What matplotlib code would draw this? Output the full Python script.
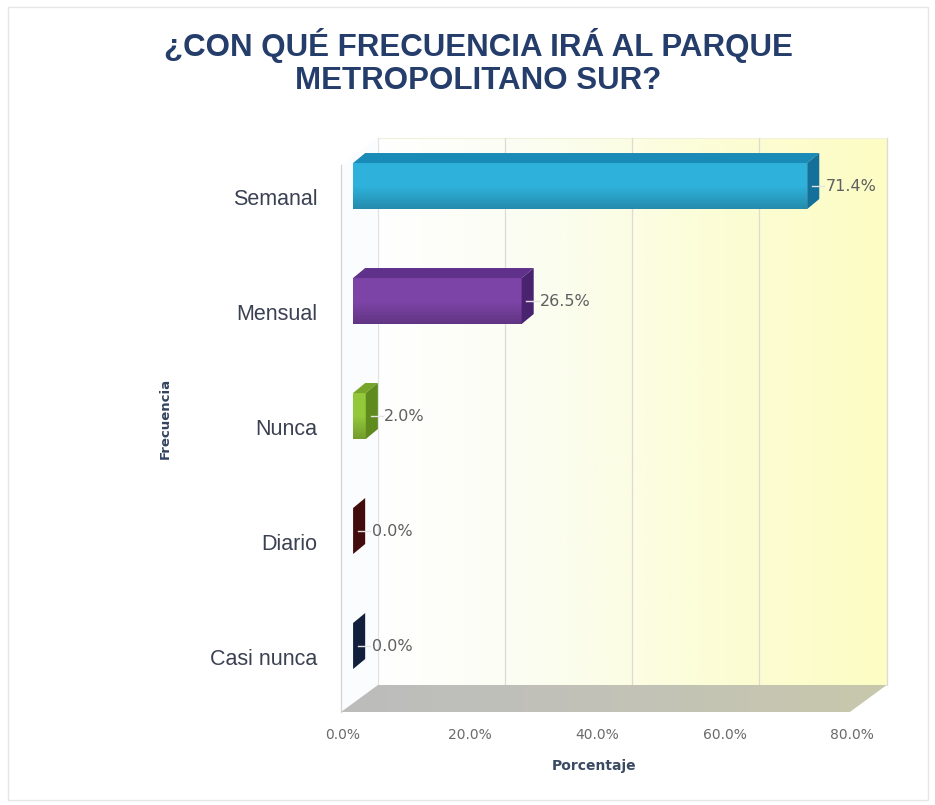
import numpy as np
import matplotlib
matplotlib.use("Agg")
import matplotlib.pyplot as plt
from matplotlib.patches import Polygon, Rectangle
from matplotlib.colors import LinearSegmentedColormap
from matplotlib.transforms import ScaledTranslation

# datos
categorias = ["Semanal", "Mensual", "Nunca", "Diario", "Casi nunca"]
porcentajes = [71.4, 26.5, 2.0, 0.0, 0.0]
etiquetas = ["71.4%", "26.5%", "2.0%", "0.0%", "0.0%"]
ticks_x = [0, 20, 40, 60, 80]
ticks_x_txt = ["0.0%", "20.0%", "40.0%", "60.0%", "80.0%"]

# colores (frente, arriba, lado)
col_frente = ["#2eb2dc", "#7d44a8", "#93c83a", "#6e1818", "#243f6c"]
col_arriba = ["#1a8bb6", "#60318a", "#76a52a", "#521010", "#182c50"]
col_lado = ["#13709a", "#4a2370", "#5f8a1e", "#420c0c", "#111f3c"]

# geometria pseudo-3D (unidades de datos)
DX, DY = 5.8, -0.235      # profundidad de paredes
BX, BY = 1.9, -0.078      # plano de las barras
BDX, BDY = 1.9, -0.087    # profundidad de barras
ALTO = 0.40
Y_PISO = 4.496
Y_TECHO = -0.496

fig = plt.figure(figsize=(9.35, 8.05), dpi=100)
fig.patch.set_facecolor("white")
ax = fig.add_axes([330 / 935, (805 - 722) / 805, 570 / 935, 602 / 805])

# pared del fondo con degradado blanco -> amarillo
cm_pared = LinearSegmentedColormap.from_list("pared", ["#ffffff", "#fbfdf0", "#fdfdd6", "#fcfcc4"])
pared = Rectangle((DX, Y_TECHO), 80, (Y_PISO + DY) - Y_TECHO, facecolor="none",
                  edgecolor="#f2f2dc", lw=0.8, zorder=1)
ax.add_patch(pared)
grad = np.linspace(0, 1, 256).reshape(1, -1)
im = ax.imshow(grad, extent=(DX, 80 + DX, Y_PISO + DY, Y_TECHO), cmap=cm_pared,
               aspect="auto", zorder=0.5)
im.set_clip_path(pared)

# pared izquierda
izq = Polygon([(0, Y_PISO), (DX, Y_PISO + DY), (DX, Y_TECHO), (0, Y_TECHO - DY)],
              closed=True, facecolor="#fbfcfe", edgecolor="none", zorder=1)
ax.add_patch(izq)
ax.plot([0, 0], [Y_PISO, Y_TECHO - DY], color="#d4d4d4", lw=0.9, zorder=1.2)
ax.plot([DX, DX], [Y_PISO + DY, Y_TECHO], color="#e2e2e2", lw=0.8, zorder=1.2)

# lineas de division en la pared del fondo
for t in ticks_x[1:]:
    ax.plot([t + DX, t + DX], [Y_PISO + DY, Y_TECHO], color="#dcdcd4", lw=0.9, zorder=1.2)

# piso
piso = Polygon([(0, Y_PISO), (80, Y_PISO), (80 + DX, Y_PISO + DY), (DX, Y_PISO + DY)],
               closed=True, facecolor="none", edgecolor="none", zorder=1.5)
ax.add_patch(piso)
cm_piso = LinearSegmentedColormap.from_list("piso", ["#bcbcbc", "#c2c2b8", "#c8c8ac"])
im2 = ax.imshow(grad, extent=(0, 80 + DX, Y_PISO, Y_PISO + DY), cmap=cm_piso,
                aspect="auto", zorder=1.5)
im2.set_clip_path(piso)

# barras
y_pos = np.arange(len(categorias)) + BY
ax.barh(y_pos, porcentajes, left=BX, height=ALTO, color=col_frente, edgecolor="none", zorder=3)
for i, (v, yc) in enumerate(zip(porcentajes, y_pos)):
    y0, y1 = yc - ALTO / 2, yc + ALTO / 2
    x1 = BX + v
    arriba = Polygon([(BX, y0), (x1, y0), (x1 + BDX, y0 + BDY), (BX + BDX, y0 + BDY)],
                     closed=True, facecolor=col_arriba[i], edgecolor="none", zorder=3)
    lado = Polygon([(x1, y0), (x1, y1), (x1 + BDX, y1 + BDY), (x1 + BDX, y0 + BDY)],
                   closed=True, facecolor=col_lado[i], edgecolor="none", zorder=3.1)
    ax.add_patch(arriba)
    ax.add_patch(lado)
    # sombreado vertical del frente
    if v > 0:
        frente = Rectangle((BX, y0), v, ALTO, facecolor="none", edgecolor="none")
        ax.add_patch(frente)
        sh = np.linspace(0, 1, 64).reshape(-1, 1)
        cm_sh = LinearSegmentedColormap.from_list("sh", [(0, 0, 0, 0.0), (0, 0, 0, 0.0), (0, 0, 0, 0.22)])
        ims = ax.imshow(sh, extent=(BX, x1, y1, y0), cmap=cm_sh, aspect="auto", zorder=3.05)
        ims.set_clip_path(frente)
    # etiqueta de datos con linea guia
    ax.plot([x1 + BDX * 0.4, x1 + BDX + 0.8], [yc, yc], color="#e4e4e4", lw=1, zorder=3.2)
    ax.text(x1 + BDX + 1.0, yc, etiquetas[i], ha="left", va="center", fontsize=11.5,
            color="#5f5f5f", family=["DejaVu Sans"], zorder=4)

# ejes
ax.set_xlim((330 - 341) / 6.36, (900 - 341) / 6.36)
ax.set_ylim((722 - 195) / 115, (120 - 195) / 115)
ax.set_yticks(np.arange(len(categorias)))
ax.set_yticklabels(categorias, fontsize=15.5, color="#3a4152", family=["Liberation Sans", "DejaVu Sans"])
ax.set_xticks(ticks_x)
ax.set_xticklabels(ticks_x_txt, fontsize=10, color="#6a6a6a", family=["DejaVu Sans"])
ax.tick_params(axis="y", length=0, pad=9)
ax.tick_params(axis="x", length=0, pad=4)
for lab in ax.get_xticklabels():
    lab.set_transform(lab.get_transform() + ScaledTranslation(2 / 100, 0, fig.dpi_scale_trans))
for lab in ax.get_yticklabels():
    lab.set_transform(lab.get_transform() + ScaledTranslation(0, -2 / 100, fig.dpi_scale_trans))
for s in ax.spines.values():
    s.set_visible(False)
ax.set_facecolor("none")

# titulos
fig.text(478 / 935, 1 - 62 / 805, "¿CON QUÉ FRECUENCIA IRÁ AL PARQUE\nMETROPOLITANO SUR?",
         ha="center", va="center", fontsize=22.5, fontweight="bold", color="#253d6b",
         linespacing=1.15, family=["Liberation Sans", "DejaVu Sans"])
fig.text(165 / 935, 1 - 418 / 805, "Frecuencia", rotation=90, ha="center", va="center",
         fontsize=9.5, fontweight="bold", color="#33425f", family=["DejaVu Sans"])
fig.text(594 / 935, 1 - 766 / 805, "Porcentaje", ha="center", va="center",
         fontsize=10, fontweight="bold", color="#3b4a63", family=["DejaVu Sans"])

# marco exterior
fig.patches.append(Rectangle((8 / 935, 5 / 805), 920 / 935, 793 / 805, transform=fig.transFigure,
                             facecolor="none", edgecolor="#e6e6e6", lw=1))

fig.savefig("out.png", dpi=100)
